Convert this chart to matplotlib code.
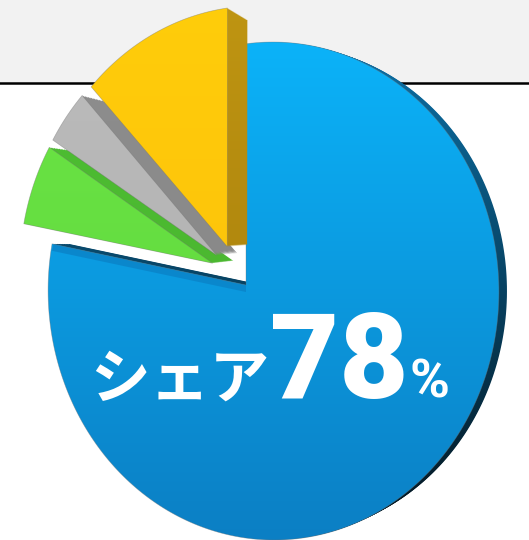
import numpy as np
import matplotlib
matplotlib.use("Agg")
import matplotlib.pyplot as plt
from matplotlib.transforms import Transform, Affine2D
from matplotlib.path import Path
from matplotlib.patches import Wedge, Rectangle
from matplotlib.colors import to_rgb

plt.rcParams['font.family'] = ['Noto Sans CJK JP', 'DejaVu Sans']

# ---------------- data ----------------
slice_names = ['A', 'B', 'C', 'D']
slice_values = [78, 6, 4, 12]
slice_explode = [0.0, 0.12, 0.12, 0.12]
label_prefix = 'シェア'
label_unit = '%'

# ---------------- style ----------------
face_top = ['#0bb7fd', '#6ce646', '#bdbdbd', '#ffcd0a']
face_bot = ['#0c7fc4', '#5ed53b', '#ababab', '#fcbc0c']
side_top = ['#0d78b2', '#4fc033', '#8e8e8e', '#bf9512']
side_bot = ['#03131c', '#47b02e', '#858585', '#a27a0a']
W, H = 529, 540

# perspective mapping of the unit pie onto the picture
CX, CY = 246.0, 285.0
A_, G_ = 222.0, -0.122
E_, H_ = 247.0, 0.024
LIFT = (-9.0, -11.0)   # apparent lift of the exploded slices


class Persp(Transform):
    input_dims = 2
    output_dims = 2
    is_separable = False
    has_inverse = False

    def transform_non_affine(self, values):
        v = np.asarray(values, dtype=float).reshape(-1, 2)
        x, y = v[:, 0], v[:, 1]
        w = 1.0 + G_ * x + H_ * y
        return np.column_stack([CX + A_ * x / w, CY - E_ * y / w])

    def transform_path_non_affine(self, path):
        big = Affine2D().scale(2000).transform_path(path)
        polys = big.to_polygons(closed_only=True)
        verts, codes = [], []
        for p in polys:
            p = np.asarray(p) / 2000.0
            tp = self.transform_non_affine(p)
            verts.append(tp)
            codes += [Path.MOVETO] + [Path.LINETO] * (len(tp) - 2) + [Path.CLOSEPOLY]
        return Path(np.vstack(verts), codes)


persp = Persp()

fig = plt.figure(figsize=(W / 100, H / 100), dpi=100)
ax = fig.add_axes([0, 0, 1, 1])

wedges, _ = ax.pie(slice_values, explode=slice_explode, startangle=90,
                   counterclock=False, radius=1.0)

ax.set_aspect('auto')
ax.set_xlim(0, W)
ax.set_ylim(H, 0)
ax.axis('off')

# background band and rule
ax.add_patch(Rectangle((0, 0), W, 83, facecolor='#f2f2f2', edgecolor='none', zorder=0))
ax.axhline(83, color='black', lw=1.8, zorder=1)


def gradient(top, bot, clip, z):
    c1, c2 = np.array(to_rgb(top)), np.array(to_rgb(bot))
    t = np.linspace(0, 1, 256)[:, None, None]
    img = c1 * (1 - t) + c2 * t
    img = np.repeat(img, 2, axis=1)
    im = ax.imshow(img, extent=(0, W, H, 0), origin='upper', aspect='auto',
                   interpolation='bilinear', zorder=z)
    im.set_clip_path(clip)
    return im


def about(vx, vy, s):
    return Affine2D().translate(-vx, -vy).scale(s).translate(vx, vy)


# extrusion vanishing settings (blue rim small, exploded slices deeper)
vanish = [(900.0, 250.0, 0.02, 10), (582.0, 221.0, 0.056, 18),
          (582.0, 221.0, 0.056, 18), (582.0, 221.0, 0.056, 20)]

for i, w in enumerate(wedges):
    z = 2 + i * 2
    vx, vy, t, nstep = vanish[i]
    lift = Affine2D() if slice_explode[i] == 0 else Affine2D().translate(*LIFT)
    for f in np.linspace(1.0 / nstep, 1.0, nstep):
        side = Wedge(w.center, w.r, w.theta1, w.theta2,
                     transform=persp + lift + about(vx, vy, 1 - t * f) + ax.transData)
        gradient(side_top[i], side_bot[i], side, z)
    w.set_transform(persp + lift + ax.transData)
    w.set_facecolor('none')
    w.set_edgecolor((0.45, 0.45, 0.45, 0.45))
    w.set_linewidth(0.5)
    w.set_zorder(z + 1.5)
    gradient(face_top[i], face_bot[i], w, z + 1)

    if i == 0:
        # inner bevel of the main slice along the cut-out edge
        notch = Wedge(w.center, w.r, w.theta2, w.theta1 + 360,
                      transform=persp + Affine2D().translate(0, 7) + ax.transData,
                      facecolor='#0a84c9', edgecolor='none', alpha=0.85, zorder=z + 1.2)
        ax.add_patch(notch)
        notch.set_clip_path(w)

ax.set_xlim(0, W)
ax.set_ylim(H, 0)

# label
ax.text(90, 398, label_prefix, fontsize=43, color='white', fontweight='bold',
        ha='left', va='baseline', zorder=30)
ax.text(270, 398, str(slice_values[0]), fontsize=86, color='white',
        fontweight='black', family=['Roboto', 'DejaVu Sans'],
        ha='left', va='baseline', zorder=30)
ax.text(410, 398, label_unit, fontsize=39, color='white', fontweight='bold',
        family=['Roboto', 'DejaVu Sans'], ha='left', va='baseline', zorder=30)

fig.savefig('out.png', dpi=100)
